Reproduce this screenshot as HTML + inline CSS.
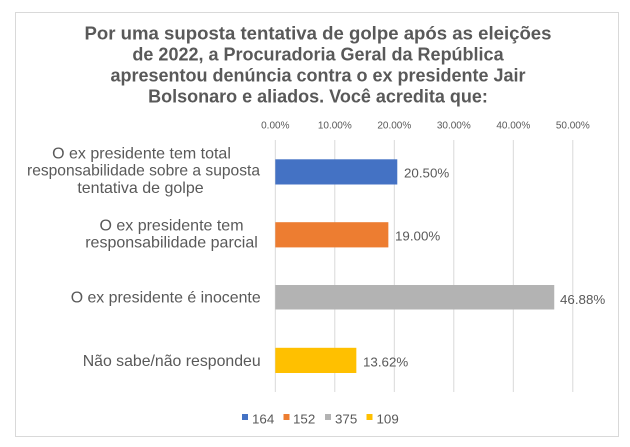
<!DOCTYPE html>
<html>
<head>
<meta charset="utf-8">
<style>
  html, body { margin:0; padding:0; background:#ffffff; }
  svg { display:block; }
  text { font-family: "Liberation Sans", Arial, sans-serif; fill:#595959; }
</style>
</head>
<body>
<svg width="630" height="447" viewBox="0 0 630 447" xmlns="http://www.w3.org/2000/svg">
  <rect x="0" y="0" width="630" height="447" fill="#ffffff"/>
  <rect x="15.5" y="12.5" width="603" height="424" fill="#ffffff" stroke="#d9d9d9" stroke-width="1"/>

  <!-- Title -->
  <g font-weight="bold" font-size="18" text-anchor="middle">
    <text x="318" y="39.3" textLength="467" lengthAdjust="spacingAndGlyphs">Por uma suposta tentativa de golpe após as eleições</text>
    <text x="318" y="60.5">de 2022, a Procuradoria Geral da República</text>
    <text x="318" y="81.6">apresentou denúncia contra o ex presidente Jair</text>
    <text x="318" y="102.7">Bolsonaro e aliados. Você acredita que:</text>
  </g>

  <!-- Tick labels -->
  <g font-size="10" text-anchor="middle">
    <text x="275.3" y="128.5">0.00%</text>
    <text x="334.8" y="128.5">10.00%</text>
    <text x="394.3" y="128.5">20.00%</text>
    <text x="453.8" y="128.5">30.00%</text>
    <text x="513.3" y="128.5">40.00%</text>
    <text x="572.8" y="128.5">50.00%</text>
  </g>

  <!-- Gridlines -->
  <g stroke="#d9d9d9" stroke-width="1">
    <line x1="275.3" y1="140" x2="275.3" y2="392"/>
    <line x1="334.8" y1="140" x2="334.8" y2="392"/>
    <line x1="394.3" y1="140" x2="394.3" y2="392"/>
    <line x1="453.8" y1="140" x2="453.8" y2="392"/>
    <line x1="513.3" y1="140" x2="513.3" y2="392"/>
    <line x1="572.8" y1="140" x2="572.8" y2="392"/>
  </g>

  <!-- Bars -->
  <rect x="275.3" y="159.3" width="121.98" height="25.2" fill="#4472c4"/>
  <rect x="275.3" y="222.2" width="113.05" height="25.2" fill="#ed7d31"/>
  <rect x="275.3" y="285" width="278.94" height="24.5" fill="#b3b3b3"/>
  <rect x="275.3" y="347.8" width="81.04" height="25.2" fill="#ffc000"/>

  <!-- Value labels -->
  <g font-size="13.33">
    <text x="404" y="177.5">20.50%</text>
    <text x="395" y="240.5">19.00%</text>
    <text x="560" y="303.8">46.88%</text>
    <text x="363" y="366.5">13.62%</text>
  </g>

  <!-- Category labels -->
  <g font-size="16" text-anchor="middle">
    <text x="141.5" y="158.3">O ex presidente tem total</text>
    <text x="143.5" y="175.7" textLength="233" lengthAdjust="spacingAndGlyphs">responsabilidade sobre a suposta</text>
    <text x="140.5" y="193">tentativa de golpe</text>

    <text x="171.5" y="230.3">O ex presidente tem</text>
    <text x="171.5" y="247.3">responsabilidade parcial</text>
  </g>
  <g font-size="16" text-anchor="end">
    <text x="260.7" y="302.7" textLength="190" lengthAdjust="spacingAndGlyphs">O ex presidente é inocente</text>
    <text x="260.7" y="366" textLength="178" lengthAdjust="spacingAndGlyphs">Não sabe/não respondeu</text>
  </g>

  <!-- Legend -->
  <rect x="242" y="414" width="6" height="6" fill="#4472c4"/>
  <rect x="283.5" y="414" width="6" height="6" fill="#ed7d31"/>
  <rect x="325" y="414" width="6" height="6" fill="#b3b3b3"/>
  <rect x="366.5" y="414" width="6" height="6" fill="#ffc000"/>
  <g font-size="13.33">
    <text x="252" y="423.3">164</text>
    <text x="293" y="423.3">152</text>
    <text x="335" y="423.3">375</text>
    <text x="376.5" y="423.3">109</text>
  </g>
</svg>
</body>
</html>
